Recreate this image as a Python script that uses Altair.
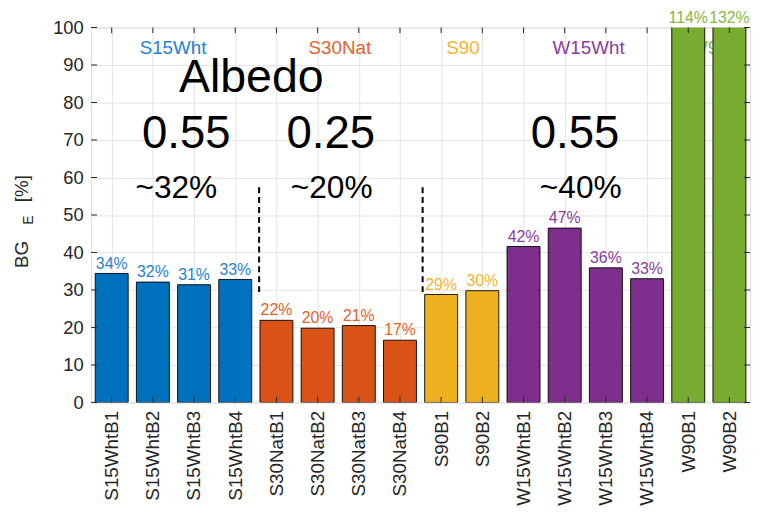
import altair as alt
import pandas as pd

# ---------------- data ----------------
names = ["S15WhtB1", "S15WhtB2", "S15WhtB3", "S15WhtB4",
         "S30NatB1", "S30NatB2", "S30NatB3", "S30NatB4",
         "S90B1", "S90B2",
         "W15WhtB1", "W15WhtB2", "W15WhtB3", "W15WhtB4",
         "W90B1", "W90B2"]
groups = ["S15Wht"] * 4 + ["S30Nat"] * 4 + ["S90"] * 2 + ["W15Wht"] * 4 + ["W90"] * 2
values = [34.4, 32.1, 31.4, 32.8,
          21.9, 19.8, 20.5, 16.6,
          28.8, 29.8,
          41.6, 46.5, 35.9, 33.0,
          114.0, 132.0]
value_labels = ["34%", "32%", "31%", "33%", "22%", "20%", "21%", "17%",
                "29%", "30%", "42%", "47%", "36%", "33%", "114%", "132%"]

group_names = ["S15Wht", "S30Nat", "S90", "W15Wht", "W90"]
group_label_x = [2.49, 6.54, 9.53, 12.58, 15.51]
group_label_y = [94.5, 94.5, 94.5, 94.5, 94.5]

title_text = ["Albedo"]
title_x = [4.39]
title_y = [86.4]
albedo_text = ["0.55", "0.25", "0.55"]
albedo_x = [2.81, 6.32, 12.25]
albedo_y = [71.5, 71.5, 71.5]
share_text = ["~32%", "~20%", "~40%"]
share_x = [2.57, 6.34, 12.39]
share_y = [57.2, 57.2, 57.2]

divider_x = [4.58, 8.55]
divider_top = [57.4, 57.4]
divider_bottom = [28.6, 28.6]

y_ticks = [0, 10, 20, 30, 40, 50, 60, 70, 80, 90, 100]

# y-axis title pieces ("BG" with subscript "E", then "[%]"), anchored left of the axis
ytitle_text = ["BG", "E", "[%]"]
ytitle_x = [-1.18, -1.01, -1.18]
ytitle_y = [39.5, 48.6, 57.0]

# ---------------- styles ----------------
bar_colors = {"S15Wht": "#0072BD", "S30Nat": "#D95319", "S90": "#EDB120",
              "W15Wht": "#7E2F8E", "W90": "#77AC30"}
text_colors = {"S15Wht": "#2383CF", "S30Nat": "#E2622C", "S90": "#F1B52C",
               "W15Wht": "#8A3B9B", "W90": "#86B846"}
FONT = "Liberation Sans"
AX = "#262626"

idx = list(range(1, len(names) + 1))
bars = pd.DataFrame({
    "idx": idx, "name": names, "group": groups, "value": values,
    "label": value_labels,
})
bars["x0"] = bars["idx"] - 0.4
bars["x1"] = bars["idx"] + 0.4
bars["ytop"] = bars["value"].clip(upper=100)
bars["fill"] = bars["group"].map(bar_colors)
bars["tcolor"] = bars["group"].map(text_colors)

glab = pd.DataFrame({"group": group_names, "x": group_label_x, "y": group_label_y})
glab["tcolor"] = glab["group"].map(text_colors)

div = pd.DataFrame({"x": divider_x, "y": divider_top, "y2": divider_bottom})

xscale = alt.Scale(domain=[0.5, 16.5], nice=False, zero=False)
yscale = alt.Scale(domain=[0, 100], nice=False)

names_js = "[" + ",".join("'%s'" % n for n in names) + "]"

x_axis = alt.Axis(values=idx, labelExpr=names_js + "[datum.value-1]",
                  labelAngle=270, labelFontSize=19, labelFont=FONT, labelColor=AX,
                  labelPadding=8, tickSize=0, domain=False, grid=True,
                  gridColor="#e3e3e3", title=None, labelOverlap=False)
y_axis = alt.Axis(values=y_ticks, labelFontSize=18.5, labelFont=FONT, labelColor=AX,
                  labelPadding=8, tickSize=0, domain=False, grid=True,
                  gridColor="#e3e3e3", title=None, labelOverlap=False)


def X(field):
    return alt.X(field, scale=xscale, axis=x_axis)


def Y(field):
    return alt.Y(field, scale=yscale, axis=y_axis)


# group labels (drawn behind bars)
group_layer = alt.Chart(glab).mark_text(fontSize=19, font=FONT, baseline="middle").encode(
    x=X("x:Q"), y=Y("y:Q"),
    text="group:N",
    color=alt.Color("tcolor:N", scale=None),
)

bar_layer = alt.Chart(bars).mark_bar(stroke="black", strokeWidth=0.9, clip=True).encode(
    x=X("x0:Q"), x2="x1:Q",
    y=Y("value:Q"), y2=alt.datum(0),
    fill=alt.Fill("fill:N", scale=None),
)

value_layer = alt.Chart(bars).mark_text(fontSize=16, font=FONT, baseline="bottom", dy=-2).encode(
    x=X("idx:Q"), y=Y("ytop:Q"),
    text="label:N",
    color=alt.Color("tcolor:N", scale=None),
)


def text_layer(texts, xs, ys, size, angle=0, color="black", sizes=None):
    df = pd.DataFrame({"text": texts, "x": xs, "y": ys})
    enc = dict(x=X("x:Q"), y=Y("y:Q"), text="text:N")
    if sizes is not None:
        df["fs"] = sizes
        enc["size"] = alt.Size("fs:Q", scale=None, legend=None)
    mk = dict(font=FONT, baseline="middle", align="center", color=color)
    if sizes is None:
        mk["fontSize"] = size
    if angle:
        mk["angle"] = angle
    return alt.Chart(df).mark_text(**mk).encode(**enc)


title_layer = text_layer(title_text, title_x, title_y, 47)
albedo_layer = text_layer(albedo_text, albedo_x, albedo_y, 46)
share_layer = text_layer(share_text, share_x, share_y, 32)
ytitle_layer = text_layer(ytitle_text, ytitle_x, ytitle_y, 19, angle=270, color=AX,
                          sizes=[19, 14, 19])

div_layer = alt.Chart(div).mark_rule(color="black", strokeWidth=2, strokeDash=[6, 4]).encode(
    x=X("x:Q"), y=Y("y:Q"), y2="y2:Q",
)

# inward ticks on all four sides (tick length given in data units)
tick_df_x = pd.DataFrame({"x": idx})
tick_df_x["b0"], tick_df_x["b1"] = 0.0, 1.5
tick_df_x["t0"], tick_df_x["t1"] = 100.0, 98.5
tick_df_y = pd.DataFrame({"y": y_ticks})
tick_df_y["l0"], tick_df_y["l1"] = 0.5, 0.645
tick_df_y["r0"], tick_df_y["r1"] = 16.5, 16.355

tick_bottom = alt.Chart(tick_df_x).mark_rule(color=AX, strokeWidth=1).encode(
    x=X("x:Q"), y=Y("b0:Q"), y2="b1:Q")
tick_top = alt.Chart(tick_df_x).mark_rule(color=AX, strokeWidth=1).encode(
    x=X("x:Q"), y=Y("t0:Q"), y2="t1:Q")
tick_left = alt.Chart(tick_df_y).mark_rule(color=AX, strokeWidth=1).encode(
    y=Y("y:Q"), x=X("l0:Q"), x2="l1:Q")
tick_right = alt.Chart(tick_df_y).mark_rule(color=AX, strokeWidth=1).encode(
    y=Y("y:Q"), x=X("r0:Q"), x2="r1:Q")

chart = alt.layer(
    group_layer, bar_layer, value_layer, title_layer, albedo_layer, share_layer,
    div_layer, tick_bottom, tick_top, tick_left, tick_right, ytitle_layer,
).properties(
    width=666, height=379,
    padding={"left": 84, "top": 17, "right": 2, "bottom": 106},
    autosize=alt.AutoSizeParams(type="none"),
).configure_view(
    stroke=AX, strokeWidth=1
).configure_axis(
    labelOverlap=False
).configure(background="white")

chart.save("out.html", embed_options={"renderer": "svg", "actions": False})
